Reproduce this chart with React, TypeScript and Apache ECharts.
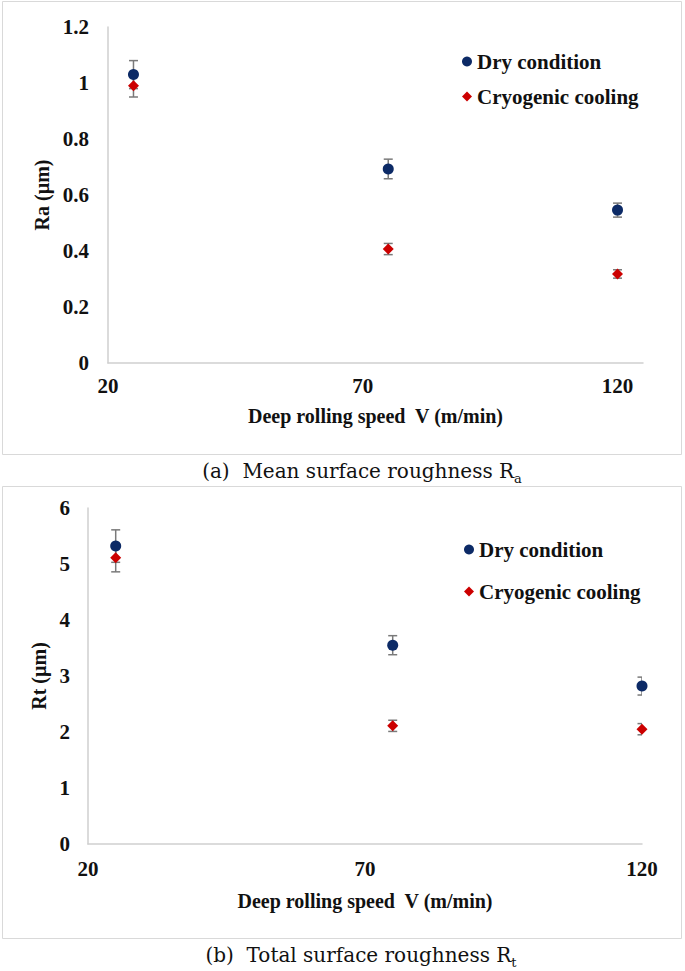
import React, { useEffect, useRef } from "react";
import * as echarts from "echarts";

// ---------- data ----------
const speeds = [25, 75, 120];
const speedTicks = [20, 70, 120];

const raDry = [1.03, 0.693, 0.546];
const raDryErr = [0.05, 0.035, 0.025];
const raCryo = [0.99, 0.407, 0.318];
const raCryoErr = [0.04, 0.02, 0.015];
const raTicks = [0, 0.2, 0.4, 0.6, 0.8, 1, 1.2];

const rtDry = [5.32, 3.55, 2.82];
const rtDryErr = [0.29, 0.17, 0.16];
const rtCryo = [5.11, 2.11, 2.05];
const rtCryoErr = [0.25, 0.1, 0.1];
const rtTicks = [0, 1, 2, 3, 4, 5, 6];

const seriesNames = ["Dry condition", "Cryogenic cooling"];
const captionA = ["(a)  Mean surface roughness R", "a"];
const captionB = ["(b)  Total surface roughness R", "t"];
const xTitle = "Deep rolling speed  V (m/min)";
const yTitleA = "Ra (µm)";
const yTitleB = "Rt (µm)";

// ---------- styles ----------
const DRY = "#0c2a66";
const CRYO = "#cc0000";
const ERR = "#7a7a7a";
const AXIS = "#cfcfcf";
const BOLD_FONT = "'Liberation Serif', 'Times New Roman', serif";

const pts = (xs: number[], ys: number[]) => xs.map((x, i) => [x, ys[i]]);
const errs = (xs: number[], ys: number[], es: number[]) =>
  xs.map((x, i) => [x, ys[i] - es[i], ys[i] + es[i]]);

const errorRender = (params: any, api: any) => {
  const x = api.value(0);
  const top = api.coord([x, api.value(2)]);
  const bot = api.coord([x, api.value(1)]);
  const hw = 4.5;
  const style = { stroke: ERR, lineWidth: 1.5, fill: "none" };
  return {
    type: "group",
    children: [
      { type: "line", shape: { x1: top[0], y1: top[1], x2: bot[0], y2: bot[1] }, style },
      { type: "line", shape: { x1: top[0] - hw, y1: top[1], x2: top[0] + hw, y2: top[1] }, style },
      { type: "line", shape: { x1: bot[0] - hw, y1: bot[1], x2: bot[0] + hw, y2: bot[1] }, style },
    ],
  };
};

const boldText = (size: number) => ({
  fontFamily: BOLD_FONT,
  fontWeight: "bold" as const,
  fontSize: size,
  color: "#111",
});

function makeXAxis(gridIndex: number, max: number, labelMargin: number, nameGap: number) {
  return {
    type: "value",
    gridIndex,
    min: 20,
    max,
    name: xTitle,
    nameLocation: "middle",
    nameGap,
    nameTextStyle: boldText(20),
    axisLine: { show: true, lineStyle: { color: AXIS, width: 1.5 } },
    axisTick: { show: false },
    splitLine: { show: false },
    axisLabel: { ...boldText(21), margin: labelMargin, customValues: speedTicks },
  };
}

function makeYAxis(gridIndex: number, ticks: number[], labelMargin: number, nameGap: number, name: string) {
  return {
    type: "value",
    gridIndex,
    min: ticks[0],
    max: ticks[ticks.length - 1],
    interval: ticks[1] - ticks[0],
    name,
    nameLocation: "middle",
    nameGap,
    nameTextStyle: boldText(20),
    axisLine: { show: true, lineStyle: { color: AXIS, width: 1.5 } },
    axisTick: { show: false },
    splitLine: { show: false },
    axisLabel: { ...boldText(21), margin: labelMargin },
  };
}

function makeSeries(idx: number, dry: number[], dryErr: number[], cryo: number[], cryoErr: number[]) {
  return [
    {
      type: "custom",
      xAxisIndex: idx,
      yAxisIndex: idx,
      renderItem: errorRender,
      data: errs(speeds, dry, dryErr),
      clip: true,
      z: 1,
      silent: true,
    },
    {
      type: "custom",
      xAxisIndex: idx,
      yAxisIndex: idx,
      renderItem: errorRender,
      data: errs(speeds, cryo, cryoErr),
      clip: true,
      z: 1,
      silent: true,
    },
    {
      name: seriesNames[0],
      type: "scatter",
      xAxisIndex: idx,
      yAxisIndex: idx,
      symbol: "circle",
      symbolSize: 11,
      itemStyle: { color: DRY, opacity: 1 },
      data: pts(speeds, dry),
      z: 3,
    },
    {
      name: seriesNames[1],
      type: "scatter",
      xAxisIndex: idx,
      yAxisIndex: idx,
      symbol: "diamond",
      symbolSize: [11, 11],
      itemStyle: { color: CRYO, opacity: 1 },
      data: pts(speeds, cryo),
      z: 4,
    },
  ];
}

function makeLegend(left: number, top: number, gap: number) {
  return {
    orient: "vertical",
    left,
    top,
    padding: 0,
    itemGap: gap,
    itemWidth: 10,
    itemHeight: 10,
    selectedMode: false,
    textStyle: { ...boldText(21), lineHeight: 21 },
    data: [
      { name: seriesNames[0], icon: "circle", itemStyle: { color: DRY, opacity: 1 } },
      { name: seriesNames[1], icon: "diamond", itemStyle: { color: CRYO, opacity: 1 } },
    ],
  };
}

function caption(parts: string[], x: number, y: number) {
  return {
    type: "text",
    x,
    y,
    style: {
      text: `{m|${parts[0]}}{s|${parts[1]}}`,
      align: "center",
      verticalAlign: "middle",
      rich: {
        m: { fontFamily: "'DejaVu Serif', serif", fontSize: 20, fill: "#111", color: "#111", lineHeight: 28 },
        s: {
          fontFamily: "'DejaVu Serif', serif",
          fontSize: 13,
          fill: "#111",
          color: "#111",
          lineHeight: 13,
          verticalAlign: "bottom",
        },
      },
    },
  };
}

export default function App() {
  const ref = useRef<HTMLDivElement>(null);
  useEffect(() => {
    if (!ref.current) return;
    const chart = echarts.init(ref.current, undefined, { renderer: "svg" });
    chart.setOption({
      animation: false,
      backgroundColor: "#fff",
      grid: [
        { left: 108, top: 27, width: 535, height: 336 },
        { left: 88, top: 508, width: 554, height: 336 },
      ],
      xAxis: [makeXAxis(0, 125, 12, 43), makeXAxis(1, 120, 14, 47)],
      yAxis: [
        makeYAxis(0, raTicks, 19, 56, yTitleA),
        makeYAxis(1, rtTicks, 18, 38, yTitleB),
      ],
      legend: [makeLegend(462, 51, 14), makeLegend(464, 539, 21)],
      series: [
        ...makeSeries(0, raDry, raDryErr, raCryo, raCryoErr),
        ...makeSeries(1, rtDry, rtDryErr, rtCryo, rtCryoErr),
      ],
      graphic: [
        {
          type: "rect",
          shape: { x: 2.5, y: 1.5, width: 679, height: 453 },
          style: { fill: "none", stroke: "#d9d9d9", lineWidth: 1 },
          silent: true,
        },
        {
          type: "rect",
          shape: { x: 2.5, y: 486.5, width: 679, height: 452 },
          style: { fill: "none", stroke: "#d9d9d9", lineWidth: 1 },
          silent: true,
        },
        caption(captionA, 362, 471),
        caption(captionB, 361, 955),
      ],
    });
    return () => chart.dispose();
  }, []);
  return (
    <div
      ref={ref}
      style={{ position: "absolute", left: 0, top: 0, width: 685, height: 971, background: "#fff" }}
    />
  );
}
